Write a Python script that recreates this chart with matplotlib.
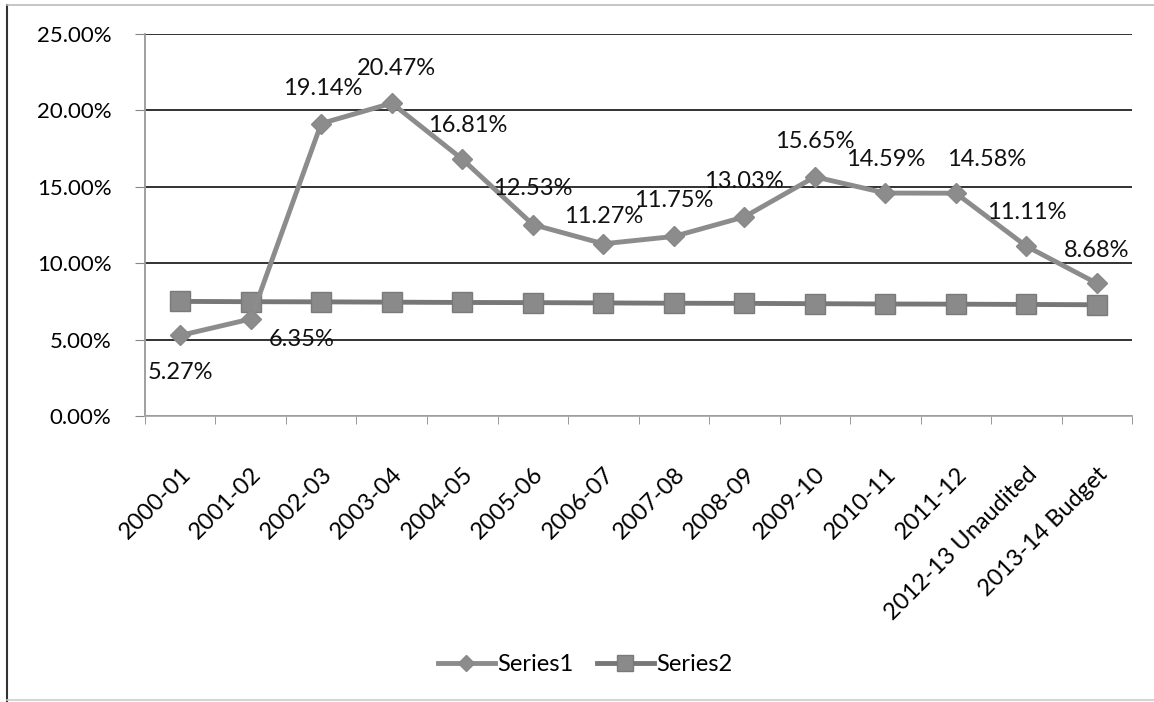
import matplotlib
matplotlib.use("Agg")
import matplotlib.pyplot as plt
from matplotlib.lines import Line2D
from matplotlib.ticker import FuncFormatter, FixedLocator

plt.rcParams['font.family'] = ['Lato', 'DejaVu Sans']

# data
years = ["2000-01", "2001-02", "2002-03", "2003-04", "2004-05", "2005-06",
         "2006-07", "2007-08", "2008-09", "2009-10", "2010-11", "2011-12",
         "2012-13 Unaudited", "2013-14 Budget"]
series1 = [5.27, 6.35, 19.14, 20.47, 16.81, 12.53, 11.27, 11.75, 13.03,
           15.65, 14.59, 14.58, 11.11, 8.68]
series2 = [7.50, 7.48, 7.47, 7.45, 7.43, 7.42, 7.40, 7.38, 7.37, 7.35,
           7.33, 7.32, 7.30, 7.28]
yticks = [0, 5, 10, 15, 20, 25]

# label offsets in pixels (dx, dy) relative to the point
label_offsets = [(0, -37), (51, -21), (1, 35), (5, 35), (5, 34), (0, 36),
                 (0, 27), (0, 36), (0, 35), (0, 35), (0, 34), (31, 34),
                 (0, 34), (0, 33)]

fig = plt.figure(figsize=(11.54, 7.02), dpi=100)
ax = fig.add_axes([0.1256, 0.4074, 0.8555, 0.5442])

x = list(range(len(years)))
ax.plot(x, series2, color='#777777', lw=3.5, marker='s', ms=14,
        mfc='#8a8a8a', mec='#7a7a7a', label='Series2', zorder=3)
ax.plot(x, series1, color='#8c8c8c', lw=3.5, marker='D', ms=10,
        mfc='#8c8c8c', mec='#888888', label='Series1', zorder=4)

for i, v in enumerate(series1):
    dx, dy = label_offsets[i]
    ax.annotate(f"{v:.2f}%", (i, v), xytext=(dx * 0.72, dy * 0.72),
                textcoords='offset points', ha='center', va='center',
                fontsize=17, color='#111111', zorder=5)

ax.set_xlim(-0.5, len(years) - 0.5)
ax.set_ylim(0, 25)
ax.set_yticks(yticks)
ax.yaxis.set_major_formatter(FuncFormatter(lambda v, p: f"{v:.2f}%"))
ax.grid(axis='y', color='#222222', lw=1.3)
ax.set_axisbelow(True)

ax.set_xticks(x)
ax.set_xticklabels(years, rotation=45, ha='right', rotation_mode='anchor')
ax.xaxis.set_minor_locator(FixedLocator([i - 0.5 for i in range(len(years) + 1)]))
ax.tick_params(axis='x', which='major', length=0, pad=34, labelsize=17)
ax.tick_params(axis='x', which='minor', length=6, color='#888888', direction='out')
ax.tick_params(axis='y', length=7, color='#888888', pad=17, labelsize=16)

for s in ['top', 'right']:
    ax.spines[s].set_visible(False)
ax.spines['left'].set_color('#999999')
ax.spines['bottom'].set_color('#aaaaaa')
ax.spines['left'].set_linewidth(1.3)
ax.spines['bottom'].set_linewidth(1.3)

handles, labels = ax.get_legend_handles_labels()
fig.legend(handles[::-1], labels[::-1], loc='center', bbox_to_anchor=(0.507, 0.053),
           ncol=2, frameon=False, fontsize=17, handlelength=2.4,
           columnspacing=1.0, handletextpad=0.1, markerscale=0.8)

# scanned page border
fig.add_artist(Line2D([0.006, 0.006], [0.0, 0.993], color='#333333', lw=1.5))
fig.add_artist(Line2D([0.006, 1.0], [0.993, 0.993], color='#bbbbbb', lw=1.2))
fig.add_artist(Line2D([0.006, 1.0], [0.003, 0.003], color='#cccccc', lw=1.2))

fig.savefig("out.png", dpi=100)
